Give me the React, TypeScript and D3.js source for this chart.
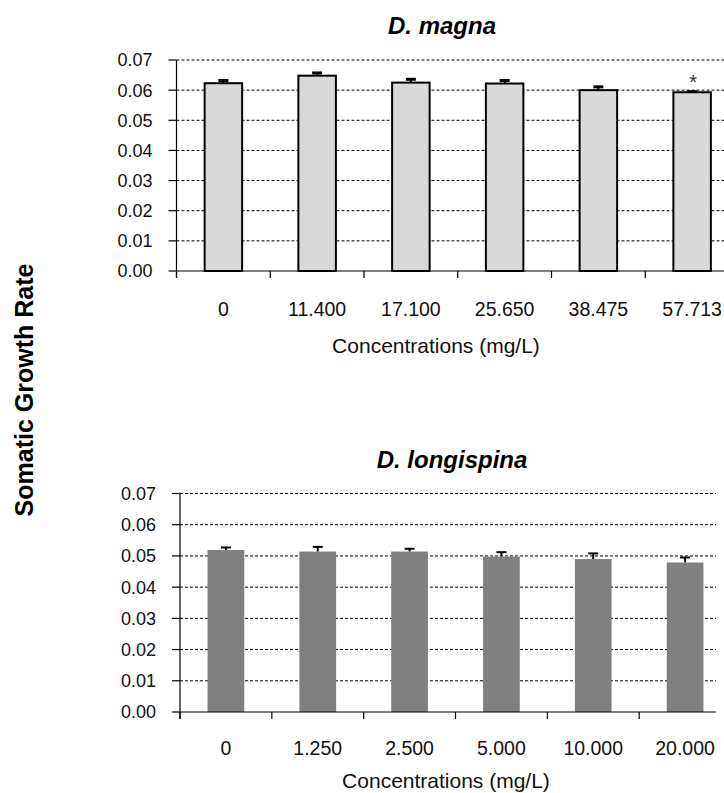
import { scaleBand, scaleLinear } from "d3";

const W = 724;
const H = 793;
const FONT = "'Liberation Sans', Arial, sans-serif";

// values
const magnaConc = ["0", "11.400", "17.100", "25.650", "38.475", "57.713"];
const magnaMean = [0.0623, 0.0648, 0.0625, 0.0622, 0.06, 0.0593];
const magnaErr = [0.0009, 0.0009, 0.0011, 0.001, 0.0011, 0.0002];
const magnaSig = [false, false, false, false, false, true];

const longiConc = ["0", "1.250", "2.500", "5.000", "10.000", "20.000"];
const longiMean = [0.0519, 0.0514, 0.0514, 0.0498, 0.049, 0.0479];
const longiErr = [0.0008, 0.0015, 0.0009, 0.0014, 0.0018, 0.0016];
const longiSig = [false, false, false, false, false, false];

const yTicks = [0, 0.01, 0.02, 0.03, 0.04, 0.05, 0.06, 0.07];

type PanelProps = {
  title: string;
  titleX: number;
  cats: string[];
  mean: number[];
  err: number[];
  sig: boolean[];
  x0: number;
  x1: number;
  clipX: number;
  yTop: number;
  yBase: number;
  labelDy: number;
  axisDy: number;
  fill: string;
  outline: boolean;
  capW: number;
};

function Panel(p: PanelProps) {
  const x = scaleBand<string>().domain(p.cats).range([p.x0, p.x1]).paddingInner(0.6).paddingOuter(0.3);
  const y = scaleLinear().domain([0, 0.07]).range([p.yBase, p.yTop]);
  const step = x.step();
  const bw = x.bandwidth();

  return (
    <g>
      <text x={p.titleX} y={p.yTop - 26} textAnchor="middle" fontFamily={FONT} fontSize={24}
        fontWeight="bold" fontStyle="italic">{p.title}</text>

      {yTicks.filter((t) => t > 0).map((t) => (
        <line key={t} x1={p.x0} x2={p.clipX} y1={y(t)} y2={y(t)} stroke="#000" strokeWidth={1}
          strokeDasharray="3,2" />
      ))}

      {p.cats.map((c, i) => {
        const bx = x(c) ?? 0;
        const top = y(p.mean[i]);
        const et = y(p.mean[i] + p.err[i]);
        const cx = bx + bw / 2;
        return (
          <g key={c}>
            <line x1={cx} x2={cx} y1={top} y2={et} stroke="#000" strokeWidth={2} />
            <line x1={cx - p.capW / 2} x2={cx + p.capW / 2} y1={et} y2={et} stroke="#000"
              strokeWidth={p.outline ? 3 : 2} />
            <rect x={bx} y={top} width={bw} height={p.yBase - top} fill={p.fill}
              stroke={p.outline ? "#000" : "none"} strokeWidth={2} />
            {p.sig[i] && (
              <text x={cx + 1} y={et - 3} textAnchor="middle" fontFamily={FONT} fontSize={20}
                fill="#333">*</text>
            )}
          </g>
        );
      })}

      {/* axes */}
      <line x1={p.x0} x2={p.x0} y1={p.yTop} y2={p.yBase + 7} stroke="#000" strokeWidth={1.2} />
      <line x1={p.x0} x2={p.clipX} y1={p.yBase} y2={p.yBase} stroke="#000" strokeWidth={1.2} />
      {yTicks.map((t) => (
        <g key={t}>
          <line x1={p.x0 - 8} x2={p.x0} y1={y(t)} y2={y(t)} stroke="#000" strokeWidth={1.2} />
          <text x={p.x0 - 24} y={y(t)} dy="0.36em" textAnchor="end" fontFamily={FONT}
            fontSize={18} fill="#111">{t.toFixed(2)}</text>
        </g>
      ))}
      {p.cats.map((c, i) => (
        <line key={c} x1={p.x0 + i * step} x2={p.x0 + i * step} y1={p.yBase} y2={p.yBase + 7}
          stroke="#000" strokeWidth={1.2} />
      ))}
      {p.cats.map((c) => (
        <text key={c} x={(x(c) ?? 0) + bw / 2} y={p.yBase + p.labelDy} textAnchor="middle"
          fontFamily={FONT} fontSize={19.5} fill="#111">{c}</text>
      ))}
      <text x={p.titleX - 6} y={p.yBase + p.axisDy} textAnchor="middle" fontFamily={FONT}
        fontSize={21} fill="#111">Concentrations (mg/L)</text>
    </g>
  );
}

export default function App() {
  return (
    <svg width={W} height={H} viewBox={`0 0 ${W} ${H}`}
      style={{ position: "absolute", left: 0, top: 0, background: "#fff" }}>
      <rect width={W} height={H} fill="#fff" />
      <text transform="translate(33,390) rotate(-90)" textAnchor="middle" fontFamily={FONT}
        fontSize={25} fontWeight="bold">Somatic Growth Rate</text>
      <Panel title="D. magna" titleX={442} cats={magnaConc} mean={magnaMean} err={magnaErr}
        sig={magnaSig} x0={176.5} x1={739} clipX={724} yTop={60} yBase={271} labelDy={45}
        axisDy={82} fill="#d9d9d9" outline={true} capW={10} />
      <Panel title="D. longispina" titleX={452} cats={longiConc} mean={longiMean} err={longiErr}
        sig={longiSig} x0={180} x1={731} clipX={716} yTop={493.5} yBase={712} labelDy={43}
        axisDy={76} fill="#808080" outline={false} capW={10} />
    </svg>
  );
}
